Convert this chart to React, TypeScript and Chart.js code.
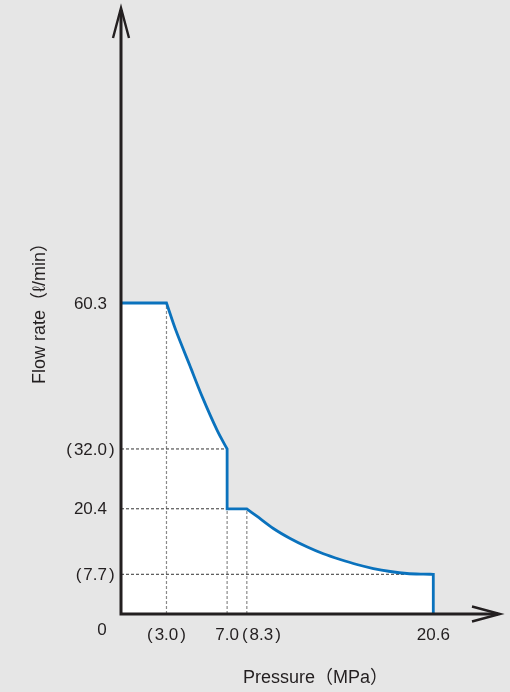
import { useEffect, useRef } from "react";
import { Chart, registerables } from "chart.js";

Chart.register(...registerables);

// Flow-rate characteristic (pressure MPa -> flow l/min); corner points repeated to keep corners sharp
const pressure = [0, 3.0, 3.0, 3.63, 4.51, 5.39, 6.36, 7.0, 7.0, 7.0, 7.0, 8.3, 8.3, 8.96, 10.05, 11.16, 12.26, 13.35, 14.46, 15.56, 16.65, 17.76, 18.86, 19.95, 20.6, 20.6, 20.6];
const flow = [60.3, 60.3, 60.3, 54.9, 48.4, 41.9, 35.5, 32.0, 32.0, 20.4, 20.4, 20.4, 20.4, 18.96, 16.58, 14.64, 13.03, 11.67, 10.57, 9.6, 8.82, 8.24, 7.85, 7.72, 7.7, 7.7, 0];

const xTickValues = [3.0, 7.0, 8.3, 20.6];
const xTickLabels = ["(3.0)", "7.0", "(8.3)", "20.6"];
const yTickValues = [60.3, 32.0, 20.4, 7.7];
const yTickLabels = ["60.3", "(32.0)", "20.4", "(7.7)"];

// dashed guide lines
const hGuideFlow = [32.0, 20.4, 7.7];
const hGuideEnd = [7.0, 7.0, 19.0];
const vGuidePressure = [3.0, 7.0, 8.3];
const vGuideTop = [60.3, 20.4, 20.4];

const xAxisMax = 25;
const yAxisMax = 117.5;

const xTitle = "Pressure（MPa）";
const yTitle = "Flow rate（ℓ/min）";
const originLabel = "0";

const FONT = '"Liberation Sans", Arial, "Noto Sans CJK JP", sans-serif';
const INK = "#231f20";
const BLUE = "#0a72bd";
const PAREN_GAP = 2;

export default function App() {
  const ref = useRef<HTMLCanvasElement | null>(null);

  useEffect(() => {
    const canvas = ref.current;
    if (!canvas) return;

    const curve = pressure.map((p, i) => ({ x: p, y: flow[i] }));

    const guideSets: any[] = [];
    hGuideFlow.forEach((f, i) => {
      guideSets.push({
        data: [{ x: 0, y: f }, { x: hGuideEnd[i], y: f }],
        showLine: true,
        borderColor: "#333333",
        borderWidth: 1,
        borderDash: [3, 2],
        pointRadius: 0,
        fill: false,
        order: 2,
      });
    });
    vGuidePressure.forEach((p, i) => {
      guideSets.push({
        data: [{ x: p, y: 0 }, { x: p, y: vGuideTop[i] }],
        showLine: true,
        borderColor: "#8a8a8a",
        borderWidth: 1.2,
        borderDash: [3, 2],
        pointRadius: 0,
        fill: false,
        order: 2,
      });
    });

    const decor = {
      id: "decor",
      afterDatasetsDraw(chart: any) {
        const ctx = chart.ctx as CanvasRenderingContext2D;
        const xs = chart.scales.x;
        const ys = chart.scales.y;
        const x0 = xs.getPixelForValue(0);
        const y0 = ys.getPixelForValue(0);
        const xEnd = xs.getPixelForValue(xAxisMax);
        const yEnd = ys.getPixelForValue(yAxisMax);
        ctx.save();
        ctx.strokeStyle = INK;
        ctx.lineCap = "butt";
        // axes
        ctx.lineWidth = 3;
        ctx.beginPath();
        ctx.moveTo(x0, y0 + 1.5);
        ctx.lineTo(x0, yEnd + 2);
        ctx.moveTo(x0 - 1.5, y0);
        ctx.lineTo(xEnd - 2, y0);
        ctx.stroke();
        // arrowheads
        ctx.lineWidth = 2.4;
        ctx.lineJoin = "miter";
        ctx.beginPath();
        ctx.moveTo(x0 - 8, yEnd + 30);
        ctx.lineTo(x0, yEnd);
        ctx.lineTo(x0 + 8, yEnd + 30);
        ctx.moveTo(xEnd - 28, y0 - 7.5);
        ctx.lineTo(xEnd, y0);
        ctx.lineTo(xEnd - 28, y0 + 7.5);
        ctx.stroke();

        // tick labels (parentheses drawn with a small gap around the number)
        ctx.fillStyle = INK;
        ctx.font = `17px ${FONT}`;
        ctx.textBaseline = "middle";
        ctx.textAlign = "left";
        const pieces = (lab: string) =>
          lab.startsWith("(") && lab.endsWith(")")
            ? ["(", lab.slice(1, -1), ")"]
            : ["", lab, ""];
        const widthOf = (lab: string) => {
          const [a, b, c] = pieces(lab);
          const wa = a ? ctx.measureText(a).width + PAREN_GAP : 0;
          const wc = c ? ctx.measureText(c).width + PAREN_GAP : 0;
          return { wa, wb: ctx.measureText(b).width, wc };
        };
        const drawLab = (lab: string, left: number, y: number) => {
          const [a, b, c] = pieces(lab);
          const { wa, wb } = widthOf(lab);
          if (a) ctx.fillText(a, left, y);
          ctx.fillText(b, left + wa, y);
          if (c) ctx.fillText(c, left + wa + wb + PAREN_GAP, y);
        };
        yTickValues.forEach((v, i) => {
          const lab = yTickLabels[i];
          const { wa, wb } = widthOf(lab);
          const py = ys.getPixelForValue(v);
          // numbers right-aligned at a common edge
          drawLab(lab, x0 - 14 - wb - wa, py + 1);
        });
        let prevRight = -Infinity;
        xTickValues.forEach((v, i) => {
          const lab = xTickLabels[i];
          const { wa, wb, wc } = widthOf(lab);
          const w = wa + wb + wc;
          let lx = xs.getPixelForValue(v) - w / 2;
          if (lx < prevRight + 3) lx = prevRight + 3;
          drawLab(lab, lx, y0 + 21);
          prevRight = lx + w;
        });
        ctx.textAlign = "center";
        ctx.fillText(originLabel, x0 - 19, y0 + 16);

        // axis titles
        ctx.font = `18px ${FONT}`;
        ctx.textAlign = "center";
        ctx.fillText(xTitle, (x0 + xEnd) / 2 + 5, y0 + 64);
        ctx.translate(40, (y0 + yEnd) / 2 - 2);
        ctx.rotate(-Math.PI / 2);
        ctx.fillText(yTitle, 0, 0);
        ctx.restore();
      },
    };

    const chart = new Chart(canvas, {
      type: "scatter",
      data: {
        datasets: [
          {
            data: curve,
            showLine: true,
            borderWidth: 0,
            borderColor: "rgba(0,0,0,0)",
            backgroundColor: "#ffffff",
            fill: "origin",
            pointRadius: 0,
            tension: 0.3,
            order: 3,
          },
          ...guideSets,
          {
            data: curve,
            showLine: true,
            borderColor: BLUE,
            borderWidth: 2.8,
            borderJoinStyle: "miter",
            pointRadius: 0,
            fill: false,
            tension: 0.3,
            order: 1,
          },
        ],
      },
      options: {
        responsive: false,
        animation: false,
        layout: { padding: { left: 121, right: 10, top: 8, bottom: 78 } },
        plugins: { legend: { display: false }, tooltip: { enabled: false } },
        events: [],
        scales: {
          x: { type: "linear", min: 0, max: xAxisMax, display: false },
          y: { type: "linear", min: 0, max: yAxisMax, display: false },
        },
      },
      plugins: [decor],
    } as any);

    return () => chart.destroy();
  }, []);

  return (
    <div
      style={{
        position: "fixed",
        left: 0,
        top: 0,
        width: 510,
        height: 692,
        background: "#e6e6e6",
      }}
    >
      <canvas ref={ref} width={510} height={692} style={{ display: "block" }} />
    </div>
  );
}
